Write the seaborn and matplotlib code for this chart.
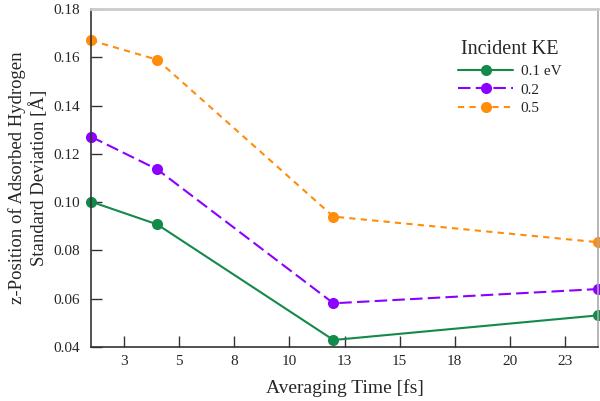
import matplotlib
matplotlib.use("Agg")
import matplotlib.pyplot as plt
import seaborn as sns
import pandas as pd

times = [1, 4, 12, 24]
ke_01 = [0.1002, 0.0908, 0.0429, 0.0531]
ke_02 = [0.1271, 0.1136, 0.0581, 0.0640]
ke_05 = [0.1670, 0.1590, 0.0940, 0.0834]
series_names = ["0.1 eV", "0.2", "0.5"]
xtick_vals = [2.5, 5, 7.5, 10, 12.5, 15, 17.5, 20, 22.5]
xtick_labels = ["3", "5", "8", "10", "13", "15", "18", "20", "23"]
ytick_vals = [0.04, 0.06, 0.08, 0.10, 0.12, 0.14, 0.16, 0.18]

rows = []
for name, vals in zip(series_names, [ke_01, ke_02, ke_05]):
    for t, v in zip(times, vals):
        rows.append({"t": t, "sd": v, "KE": name})
df = pd.DataFrame(rows)

sns.set_style("ticks")
plt.rcParams["font.family"] = ["Liberation Serif", "DejaVu Serif"]

fig = plt.figure(figsize=(6, 4.01), dpi=100)
ax = fig.add_axes([91/600, 54/401, 507/600, 338/401])

palette = {"0.1 eV": "#138a4a", "0.2": "#8c00ff", "0.5": "#ff8c0a"}
dashes = {"0.1 eV": "", "0.2": (6, 2.5), "0.5": (3, 2.5)}
sns.lineplot(data=df, x="t", y="sd", hue="KE", style="KE", palette=palette,
             dashes=dashes, markers={"0.1 eV": "o", "0.2": "o", "0.5": "o"},
             markersize=8, markeredgewidth=0, linewidth=1.5, ax=ax, clip_on=False)

ax.set_xlim(1, 24)
ax.set_ylim(0.04, 0.18)
ax.set_xticks(xtick_vals)
ax.set_xticklabels(xtick_labels)
ax.set_yticks(ytick_vals)
ax.set_yticklabels([f"{v:.2f}" for v in ytick_vals])
ax.tick_params(direction="in", length=8, width=1, labelsize=11, color="#333333", pad=6)
ax.tick_params(axis="y", pad=8)
for s in ["left", "bottom"]:
    ax.spines[s].set_color("#333333")
    ax.spines[s].set_linewidth(1.2)
ax.spines["top"].set_visible(True)
ax.spines["right"].set_visible(True)
ax.spines["top"].set_color("#cccccc")
ax.spines["right"].set_color("#aaaaaa")
ax.spines["top"].set_linewidth(2)
ax.spines["right"].set_linewidth(1.2)

ax.set_xlabel("Averaging Time [fs]", fontsize=14, labelpad=8)
ax.set_ylabel("z-Position of Adsorbed Hydrogen\nStandard Deviation [Å]", fontsize=13.5, labelpad=4)

handles, labels = ax.get_legend_handles_labels()
leg = ax.legend(handles, labels, title="Incident KE", frameon=False, fontsize=11,
                title_fontsize=14.5, loc="upper left",
                bbox_to_anchor=(458/600, 1 - 40/401), bbox_transform=fig.transFigure,
                handlelength=3.6, handletextpad=0.5, borderaxespad=0, borderpad=0,
                labelspacing=0.32)
leg._legend_box.sep = 4

fig.savefig("out.png", dpi=100)
